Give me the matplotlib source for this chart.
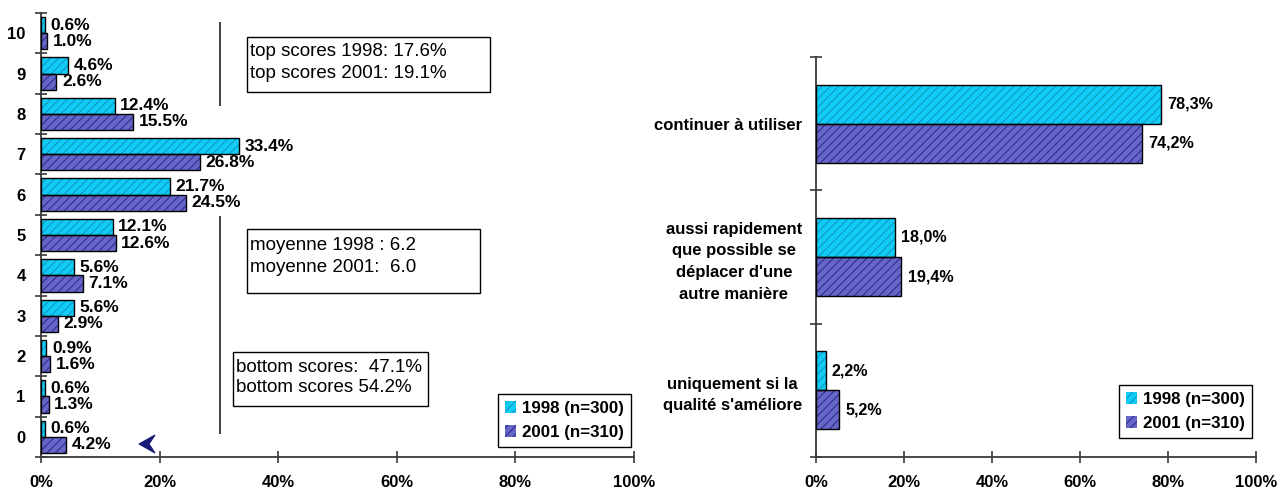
import matplotlib
matplotlib.use("Agg")
import matplotlib.pyplot as plt
from matplotlib.patches import Rectangle, Polygon
from matplotlib.lines import Line2D
from matplotlib.ticker import FixedLocator, FuncFormatter
import numpy as np

plt.rcParams['font.family'] = ['Liberation Sans', 'DejaVu Sans']
plt.rcParams['hatch.linewidth'] = 0.7

# ---- data: satisfaction scores 0..10 ----
scores = [0, 1, 2, 3, 4, 5, 6, 7, 8, 9, 10]
share_1998 = [0.6, 0.6, 0.9, 5.6, 5.6, 12.1, 21.7, 33.4, 12.4, 4.6, 0.6]
share_2001 = [4.2, 1.3, 1.6, 2.9, 7.1, 12.6, 24.5, 26.8, 15.5, 2.6, 1.0]

# ---- data: intention ----
intentions = ["continuer à utiliser",
              "aussi rapidement\nque possible se\ndéplacer d'une\nautre manière",
              "uniquement si la\nqualité s'améliore"]
intent_1998 = [78.3, 18.0, 2.2]
intent_2001 = [74.2, 19.4, 5.2]

series_names = ["1998 (n=300)", "2001 (n=310)"]
x_ticks = [0, 20, 40, 60, 80, 100]

box_lines = [["top scores 1998: 17.6%", "top scores 2001: 19.1%"],
             ["moyenne 1998 : 6.2", "moyenne 2001:  6.0"],
             ["bottom scores:  47.1%", "bottom scores 54.2%"]]

W, H = 1287, 493
fig = plt.figure(figsize=(W / 100, H / 100), dpi=100)

def fx(x):
    return x / W

def fy(y):
    return 1 - y / H

C1_FACE, C1_HATCH = '#12caf6', '#0f93b8'
C2_FACE, C2_HATCH = '#6666c6', '#26268e'
SPINE = '#3a3a3a'


def hatched_barh(ax, y, w, h, face, hatch_col, label=None):
    b = ax.barh(y, w, h, color=face, edgecolor=hatch_col, hatch='////',
                linewidth=0, label=label, zorder=2)
    ax.barh(y, w, h, fill=False, edgecolor='black', linewidth=1.0, zorder=3)
    return b


def style_axes(ax, ypad, ysize):
    for s in ['top', 'right']:
        ax.spines[s].set_visible(False)
    for s in ['left', 'bottom']:
        ax.spines[s].set_color(SPINE)
        ax.spines[s].set_linewidth(1.3)
    ax.set_xlim(0, 100)
    ax.xaxis.set_major_locator(FixedLocator(x_ticks))
    ax.xaxis.set_major_formatter(FuncFormatter(lambda v, p: f"{v:.0f}%"))
    ax.tick_params(axis='x', direction='inout', length=8.6, width=1.2,
                   color=SPINE, pad=8.5, labelsize=12)
    ax.tick_params(axis='y', which='major', length=0, pad=ypad,
                   labelsize=ysize)
    ax.tick_params(axis='y', which='minor', direction='inout', length=8.6,
                   width=1.2, color=SPINE)
    for lab in ax.get_xticklabels() + ax.get_yticklabels():
        lab.set_fontweight('bold')


def add_legend(ax, x, y, handles):
    leg = ax.legend(handles, series_names, loc='lower right',
                    bbox_to_anchor=(x, y), borderaxespad=0, fancybox=False,
                    edgecolor='black', framealpha=1, handlelength=0.7,
                    handleheight=0.7, handletextpad=0.35, labelspacing=0.55,
                    borderpad=0.4, prop={'weight': 'bold', 'size': 12.2})
    leg.get_frame().set_linewidth(1.0)


# ---------------- left chart ----------------
axL = fig.add_axes([fx(41), fy(457), fx(634) - fx(41), fy(13) - fy(457)])
ys = np.array(scores, dtype=float)
bh = 0.4
h1 = hatched_barh(axL, ys + bh / 2, share_1998, bh, C1_FACE, C1_HATCH)
h2 = hatched_barh(axL, ys - bh / 2, share_2001, bh, C2_FACE, C2_HATCH)
for yv, v in zip(ys, share_1998):
    axL.annotate(f"{v:.1f}%", (v, yv + bh / 2), xytext=(4, 0),
                 textcoords='offset points', va='center', ha='left',
                 fontsize=12.5, fontweight='bold', zorder=4)
for yv, v in zip(ys, share_2001):
    axL.annotate(f"{v:.1f}%", (v, yv - bh / 2), xytext=(4, 0),
                 textcoords='offset points', va='center', ha='left',
                 fontsize=12.5, fontweight='bold', zorder=4)
axL.set_ylim(-0.5, 10.5)
axL.set_yticks(scores)
axL.set_yticklabels([str(s) for s in scores])
axL.yaxis.set_minor_locator(FixedLocator(np.arange(-0.5, 11, 1.0)))
style_axes(axL, ypad=11, ysize=12)
add_legend(axL, (631 - 41) / 593, (457 - 447) / 444, [h1, h2])

# ---------------- right chart ----------------
axR = fig.add_axes([fx(816), fy(457), fx(1256) - fx(816), fy(57) - fy(457)])
yr = np.arange(len(intentions))[::-1].astype(float)
bh2 = 0.293
g1 = hatched_barh(axR, yr + bh2 / 2, intent_1998, bh2, C1_FACE, C1_HATCH)
g2 = hatched_barh(axR, yr - bh2 / 2, intent_2001, bh2, C2_FACE, C2_HATCH)
for yv, v in zip(yr, intent_1998):
    axR.annotate(f"{v:.1f}%".replace('.', ','), (v, yv + bh2 / 2),
                 xytext=(4.5, 0), textcoords='offset points', va='center',
                 ha='left', fontsize=11.6, fontweight='bold', zorder=4)
for yv, v in zip(yr, intent_2001):
    axR.annotate(f"{v:.1f}%".replace('.', ','), (v, yv - bh2 / 2),
                 xytext=(4.5, 0), textcoords='offset points', va='center',
                 ha='left', fontsize=11.6, fontweight='bold', zorder=4)
axR.set_ylim(-0.5, 2.5)
axR.set_yticks(yr)
axR.set_yticklabels(intentions, multialignment='center', linespacing=1.55)
axR.yaxis.set_minor_locator(FixedLocator([-0.5, 0.5, 1.5, 2.5]))
style_axes(axR, ypad=10, ysize=12)
add_legend(axR, (1252 - 816) / 440, (457 - 438) / 400, [g1, g2])

# ---------------- annotations on the left chart ----------------
for (y0, y1) in [(23, 105), (217, 433)]:
    fig.add_artist(Line2D([fx(220), fx(220)], [fy(y0), fy(y1)],
                          color='#404040', linewidth=1.4))

boxes = [(247, 37, 490, 92, 52, 74),
         (247, 229, 480, 293, 245, 267),
         (233, 352, 428, 406, 367, 388)]
for (x0, y0, x1, y1, t1, t2), lines in zip(boxes, box_lines):
    fig.add_artist(Rectangle((fx(x0), fy(y1)), fx(x1) - fx(x0),
                             fy(y0) - fy(y1), transform=fig.transFigure,
                             facecolor='white', edgecolor='black',
                             linewidth=1.0))
    for ty, txt in zip((t1, t2), lines):
        fig.text(fx(x0 + 3), fy(ty), txt, ha='left', va='center',
                 fontsize=13.5)

# small pointer glyph near the x axis
pts = [(139, 444), (155, 435), (149, 444), (155, 453)]
fig.add_artist(Polygon([(fx(a), fy(b)) for a, b in pts], closed=True,
                       transform=fig.transFigure, facecolor='#1a1a7a',
                       edgecolor='#1a1a7a', linewidth=0.8))

fig.savefig("out.png", dpi=100)
